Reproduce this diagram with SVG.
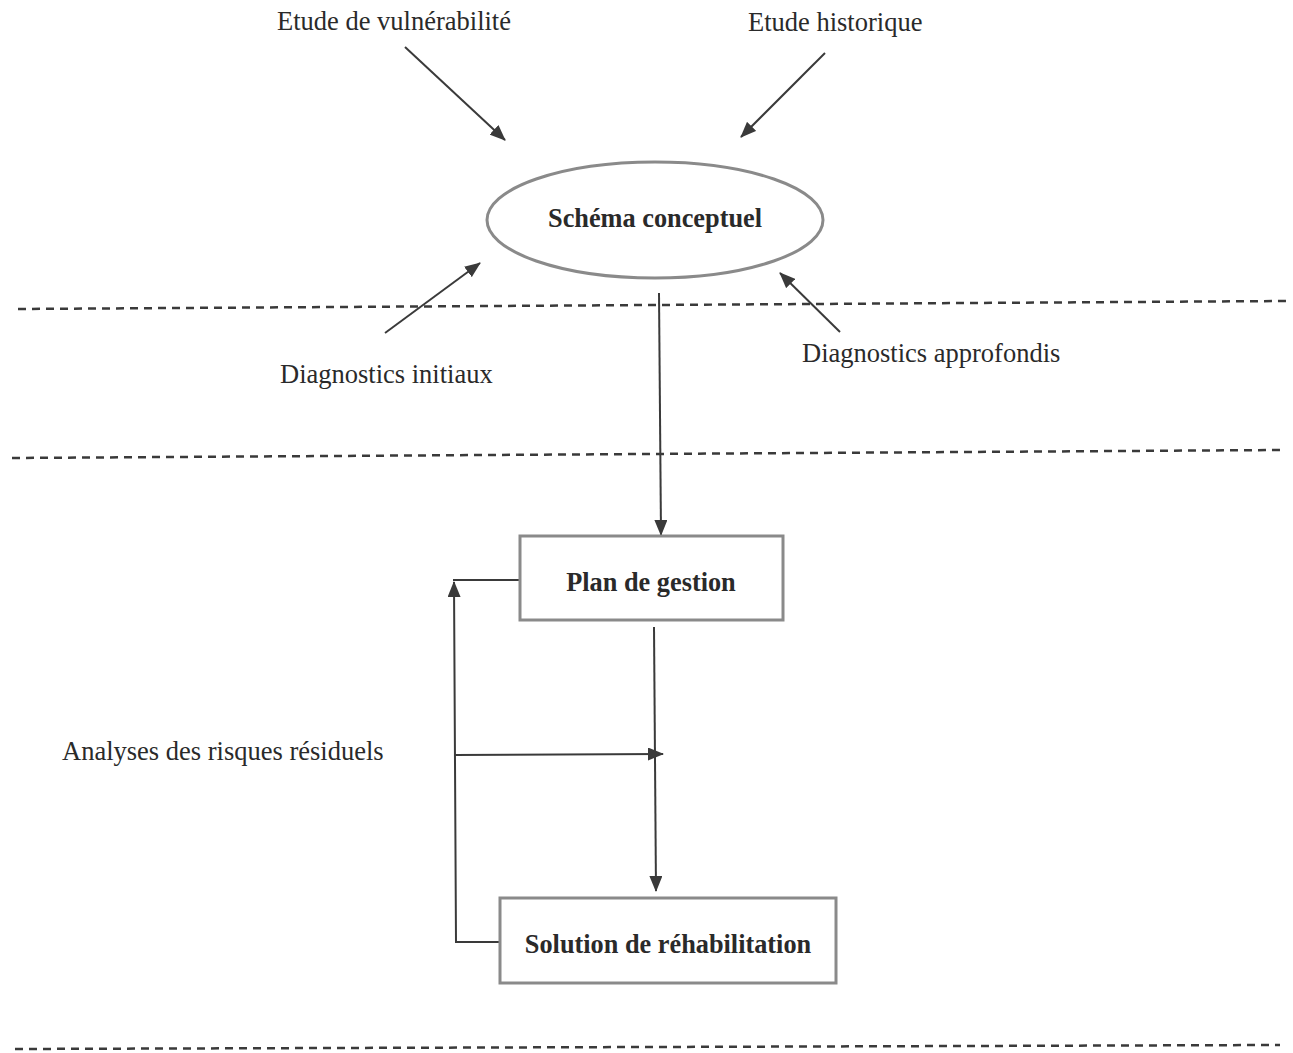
<svg xmlns="http://www.w3.org/2000/svg" width="1293" height="1053" viewBox="0 0 1293 1053">
<defs>
<marker id="ah" markerWidth="16" markerHeight="13" refX="15" refY="6.5" orient="auto" markerUnits="userSpaceOnUse" viewBox="0 0 16 13">
<path d="M0,0 L16,6.5 L0,13 z" fill="#3a3a3a"/>
</marker>
<style>
.lbl{font-family:"Liberation Serif","Times New Roman",serif;font-size:26.5px;fill:#2a2a2a}
.bold{font-family:"Liberation Serif","Times New Roman",serif;font-size:26.3px;font-weight:bold;fill:#2a2a2a}
.ln{stroke:#3a3a3a;stroke-width:2;fill:none}
.arr{stroke:#3a3a3a;stroke-width:2;fill:none;marker-end:url(#ah)}
.dash{stroke:#3a3a3a;stroke-width:2.5;stroke-dasharray:8,6;fill:none}
.box{fill:#fff;stroke:#8a8a8a;stroke-width:3}
</style>
</defs>
<rect width="1293" height="1053" fill="#fff"/>
<g id="separators">
<line class="dash" x1="18" y1="309" x2="1287" y2="301"/>
<line class="dash" x1="12" y1="458" x2="1280" y2="450"/>
<line class="dash" x1="15" y1="1049" x2="1280" y2="1045"/>
</g>
<g id="connectors">
<line class="arr" x1="405" y1="47" x2="505" y2="140"/>
<line class="arr" x1="825" y1="53" x2="741" y2="137"/>
<line class="arr" x1="385" y1="333" x2="480" y2="263"/>
<line class="arr" x1="840" y1="332" x2="780" y2="273"/>
<line class="arr" x1="659" y1="293" x2="661" y2="535"/>
<line class="arr" x1="654" y1="627" x2="656" y2="891"/>
<polyline class="arr" points="505,942 456,942 454,582"/>
<line class="ln" x1="520" y1="580" x2="453" y2="580"/>
<line class="arr" x1="455" y1="755" x2="663" y2="754"/>
</g>
<g id="n-vulnerabilite"><text class="lbl" x="277" y="30">Etude de vulnérabilité</text></g>
<g id="n-historique"><text class="lbl" x="748" y="31">Etude historique</text></g>
<g id="n-schema">
<ellipse cx="655" cy="220" rx="168" ry="58" fill="#fff" stroke="#8a8a8a" stroke-width="3"/>
<text class="bold" x="655" y="227" text-anchor="middle">Schéma conceptuel</text>
</g>
<g id="n-diag-initiaux"><text class="lbl" x="280" y="383">Diagnostics initiaux</text></g>
<g id="n-diag-approfondis"><text class="lbl" x="802" y="362">Diagnostics approfondis</text></g>
<g id="n-plan">
<rect class="box" x="520" y="536" width="263" height="84"/>
<text class="bold" x="651" y="591" text-anchor="middle">Plan de gestion</text>
</g>
<g id="n-analyses"><text class="lbl" x="62" y="760">Analyses des risques résiduels</text></g>
<g id="n-solution">
<rect class="box" x="500" y="898" width="336" height="85"/>
<text class="bold" x="668" y="953" text-anchor="middle">Solution de réhabilitation</text>
</g>
</svg>
